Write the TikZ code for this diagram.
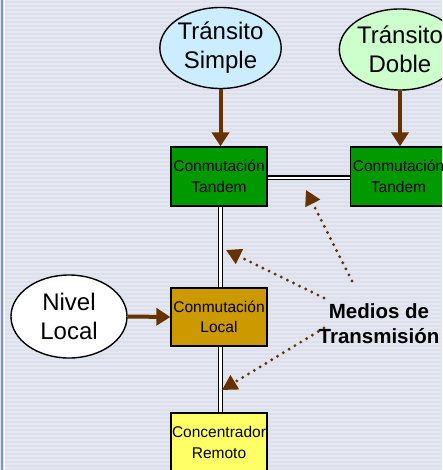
\documentclass[tikz,border=0pt]{standalone}
\usepackage{fontspec}
\setmainfont{Liberation Sans}
\usetikzlibrary{shapes.geometric,arrows.meta}

\definecolor{slidebg}{HTML}{DCE0EC}
\definecolor{stripblue}{HTML}{8094C6}
\definecolor{simplefill}{HTML}{CCECFF}
\definecolor{doblefill}{HTML}{CCFFCC}
\definecolor{tandemfill}{HTML}{009900}
\definecolor{localfill}{HTML}{CC9900}
\definecolor{concfill}{HTML}{FFFF66}
\definecolor{arrowbrown}{HTML}{663300}

\begin{document}
\begin{tikzpicture}[x=1pt,y=-1pt,
    oval/.style={ellipse,draw,line width=1.4pt,inner sep=0pt,align=center,
        minimum width=117pt,minimum height=81pt,font=\fontsize{24}{29}\selectfont},
    box/.style={rectangle,draw,line width=1.3pt,inner sep=0pt,align=center,
        minimum width=96pt,minimum height=59pt,font=\fontsize{15.5}{20.5}\selectfont},
    feed/.style={draw=arrowbrown,line width=4pt,-{Triangle[width=17pt,length=14pt]}},
    link/.style={double,double distance=2.6pt,line width=1.2pt},
    medio/.style={draw=arrowbrown,line width=3.2pt,line cap=round,
        dash pattern=on 0pt off 6.8pt,-{Triangle[width=16pt,length=15pt]}}]

        % Background of the slide
        \useasboundingbox (0,0) rectangle (442,470);
        \clip (0,0) rectangle (442,470);
        \fill[slidebg] (0,0) rectangle (442,470);
        \foreach \y in {0,4,...,468} {
            \draw[white,opacity=0.25,line width=1.5pt] (0,\y) -- (442,\y);
        }
        \fill[stripblue] (1.3,0) rectangle (3.2,470);
        \draw[white,line width=1pt] (4.6,0) -- (4.6,470);

        % Levels
        \node[oval,fill=simplefill] (simple) at (220.5,48) {Tránsito\\Simple};
        \node[oval,fill=doblefill] (doble) at (400,49.5) {Tránsito\\Doble};
        \node[oval,fill=white,minimum width=116pt,minimum height=83pt] (nivel) at (69,316.5) {Nivel\\Local};

        % Switching boxes
        \node[box,fill=tandemfill] (tandemA) at (219,176.5) {Conmutación\\Tandem};
        \node[box,fill=tandemfill] (tandemB) at (398.5,176.5) {Conmutación\\Tandem};
        \node[box,fill=localfill,minimum height=58pt] (local) at (219,317) {Conmutación\\Local};
        \node[box,fill=concfill] (conc) at (219,442.5) {Concentrador\\Remoto};

        % Transmission links (double lines)
        \draw[link] ([yshift=-1.5pt]tandemA.east) -- ([yshift=-1.5pt]tandemB.west);
        \draw[link] ([xshift=1.5pt]tandemA.south) -- ([xshift=1.5pt]local.north);
        \draw[link] ([xshift=1.5pt]local.south) -- ([xshift=1.5pt]conc.north);

        % Level arrows
        \draw[feed] (simple.south) -- (simple.south |- tandemA.north);
        \draw[feed] (doble.south) -- (doble.south |- tandemB.north);
        \draw[feed] (nivel.east) -- (local.west);

        % Label for the media
        \node[align=center,font=\bfseries\fontsize{20.5}{25}\selectfont] (medios) at (379,324) {Medios de\\Transmisión};

        % Dotted pointers
        \coordinate (m1) at (352,281);
        \coordinate (t1) at (306,190);
        \coordinate (m2) at (324,298);
        \coordinate (t2) at (226,250);
        \coordinate (m3) at (324,328);
        \coordinate (t3) at (222,390);
        \draw[medio] (m1) -- (t1);
        \draw[medio] (m2) -- (t2);
        \draw[medio] (m3) -- (t3);

\end{tikzpicture}
\end{document}
